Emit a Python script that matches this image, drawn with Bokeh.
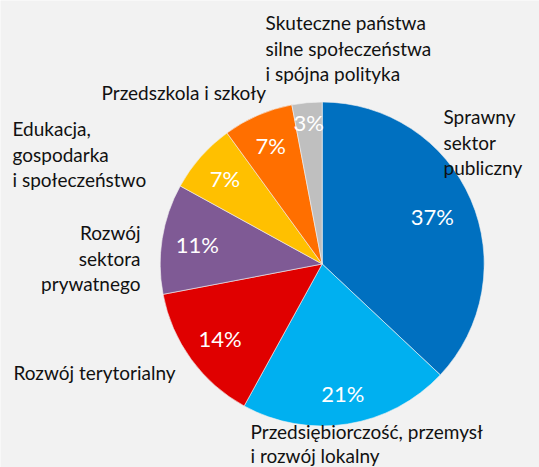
import math
from bokeh.plotting import figure
from bokeh.models import ColumnDataSource, Range1d
from bokeh.core.properties import value
from bokeh.embed import file_html
from bokeh.resources import INLINE

# ---- data ----
categories = [
    "Sprawny\nsektor\npubliczny",
    "Przedsiębiorczość, przemysł\ni rozwój lokalny",
    "Rozwój terytorialny",
    "Rozwój\nsektora\nprywatnego",
    "Edukacja,\ngospodarka\ni społeczeństwo",
    "Przedszkola i szkoły",
    "Skuteczne państwa\nsilne społeczeństwa\ni spójna polityka",
]
shares = [37, 21, 14, 11, 7, 7, 3]
colors = ["#0070C0", "#00B0F0", "#E00000", "#7F5A95", "#FFC000", "#FF6F00", "#BFBFBF"]

# ---- layout (pixel space, origin top-left) ----
W, H = 539, 467
CX, CY, R = 321.7, 263.5, 162.0
pct_r = [0.74, 0.81, 0.78, 0.78, 0.80, 0.80, 0.88]
lab_pos = [(443, 116, "left", 25.7), (250, 431, "left", 23.5), (13, 372, "left", 25.7),
           (140, 232, "right", 25.7), (12, 128, "left", 25.7), (101, 92, "left", 25.7),
           (265, 22, "left", 25.7)]
FONT = "Lato"

def fy(py):
    return H - py

total = float(sum(shares))
starts, ends, mids = [], [], []
cum = 0.0
for s in shares:
    a0 = math.pi / 2 - 2 * math.pi * cum / total
    cum += s
    a1 = math.pi / 2 - 2 * math.pi * cum / total
    starts.append(a0)
    ends.append(a1)
    mids.append((a0 + a1) / 2)

p = figure(width=W, height=H, output_backend="svg", toolbar_location=None,
           x_range=Range1d(0, W), y_range=Range1d(0, H),
           min_border=0, background_fill_color="#F2F2F2",
           border_fill_color="#F2F2F2")
p.axis.visible = False
p.grid.visible = False
p.outline_line_color = None

src = ColumnDataSource(dict(x=[CX] * len(shares), y=[fy(CY)] * len(shares),
                            start=starts, end=ends, color=colors))
p.wedge(x="x", y="y", radius=R, start_angle="start", end_angle="end",
        direction="clock", fill_color="color", line_color="#F2F2F2",
        line_width=0.6, source=src)

# percentage labels
px, py, pt = [], [], []
for s, m, f in zip(shares, mids, pct_r):
    px.append(CX + R * f * math.cos(m))
    py.append(fy(CY) + R * f * math.sin(m))
    pt.append(f"{s}%")
p.text(x=px, y=py, text=pt, text_color="white", text_font=value(FONT),
       text_font_size="22px", text_align="center", text_baseline="middle")

# category labels
for cat, (lx, ly, al, lh) in zip(categories, lab_pos):
    lines = cat.split("\n")
    p.text(x=[lx] * len(lines), y=[fy(ly + i * lh) for i in range(len(lines))],
           text=lines, text_color="#111111", text_font=value(FONT),
           text_font_size="19px", text_align=al, text_baseline="middle")

open("out.html", "w").write(file_html(p, INLINE))
